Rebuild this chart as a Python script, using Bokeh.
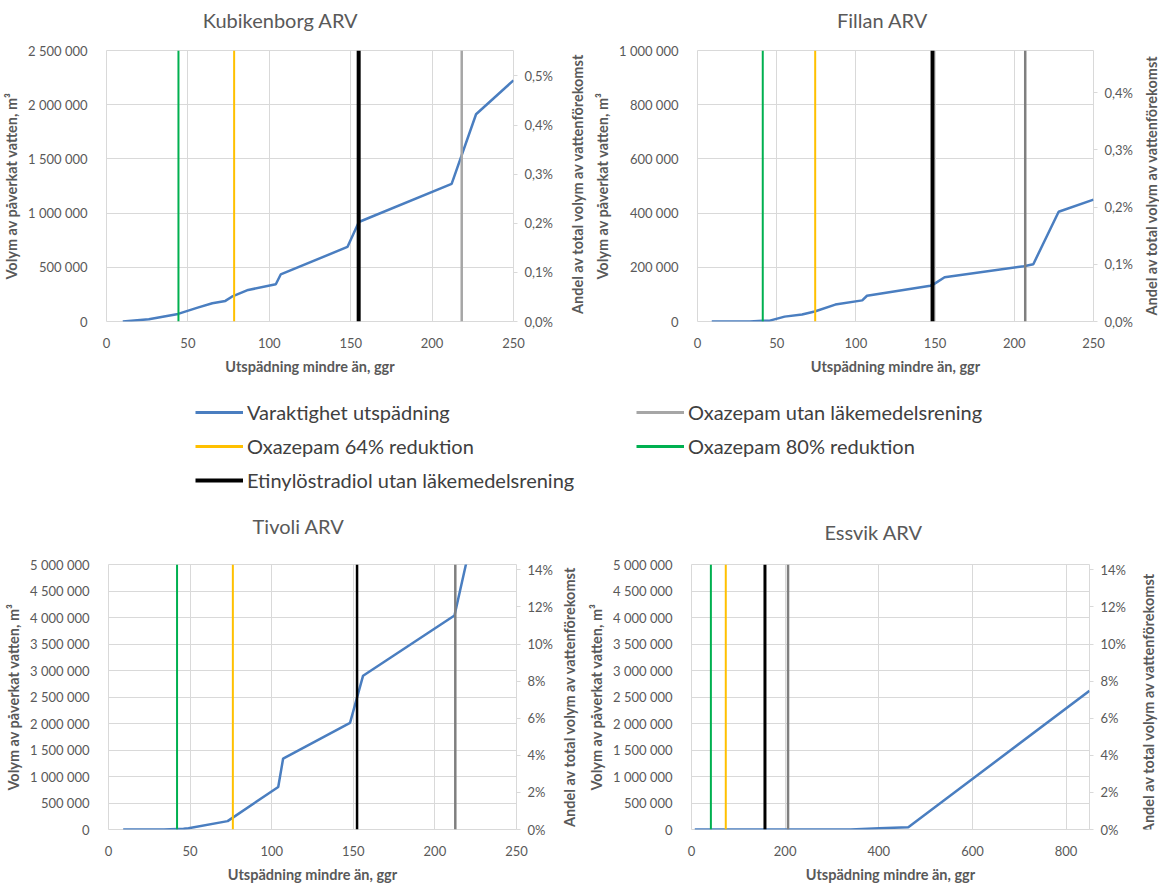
from math import pi
from bokeh.plotting import figure
from bokeh.models import (Range1d, LinearAxis, FixedTicker, CustomJSTickFormatter,
                          Span, Label, Legend, LegendItem)
from bokeh.layouts import column, row
from bokeh.embed import file_html
from bokeh.resources import INLINE

# ---------------- data ----------------
titles = ["Kubikenborg ARV", "Fillan ARV", "Tivoli ARV", "Essvik ARV"]

kub_x = [10, 26, 44, 56, 65, 73, 77, 87, 104, 107, 148, 155, 212, 227, 250]
kub_y = [0, 21000, 70000, 128000, 168000, 190000, 229000, 291000, 343000, 434000,
         688000, 918000, 1270000, 1912000, 2225000]

fil_x = [9, 33, 41, 45, 55, 66, 74, 87, 104, 107, 147, 149, 156, 206, 212, 228, 250]
fil_y = [0, 0, 2400, 2400, 18000, 26000, 37000, 62500, 78000, 95000, 132000, 137000,
         163500, 204000, 211500, 405000, 449500]

tiv_x = [9, 34, 46, 49, 73, 104, 107, 148, 156, 212, 219, 226]
tiv_y = [0, 0, 12000, 24000, 158000, 803000, 1338000, 2013000, 2902000, 4039000,
         5000000, 5950000]

ess_x = [7, 160, 340, 401, 463, 850]
ess_y = [0, 0, 0, 24000, 43000, 2616000]

curves_x = [kub_x, fil_x, tiv_x, ess_x]
curves_y = [kub_y, fil_y, tiv_y, ess_y]

# threshold dilutions (vertical lines)
oxazepam_80 = [44.2, 41.2, 42.0, 41.4]        # green
oxazepam_64 = [78.4, 74.3, 76.2, 73.2]        # yellow
etinyl_utan = [154.9, 148.4, 152.3, 156.9]    # black
oxazepam_utan = [218.2, 206.9, 212.5, 206.2]  # gray

# total water volume per water body (m3) for the secondary axis
total_volume = [453e6, 211e6, 35.0e6, 35.0e6]

x_max = [250, 250, 250, 850]
y_max = [2500000, 1000000, 5000000, 5000000]
x_ticks = [[0, 50, 100, 150, 200, 250]] * 3 + [[0, 200, 400, 600, 800]]
y_ticks = [
    [0, 500000, 1000000, 1500000, 2000000, 2500000],
    [0, 200000, 400000, 600000, 800000, 1000000],
    [0, 500000, 1000000, 1500000, 2000000, 2500000, 3000000, 3500000, 4000000, 4500000, 5000000],
    [0, 500000, 1000000, 1500000, 2000000, 2500000, 3000000, 3500000, 4000000, 4500000, 5000000],
]
pct_ticks = [
    [0, 0.1, 0.2, 0.3, 0.4, 0.5],
    [0, 0.1, 0.2, 0.3, 0.4],
    [0, 2, 4, 6, 8, 10, 12, 14],
    [0, 2, 4, 6, 8, 10, 12, 14],
]
pct_decimals = [1, 1, 0, 0]

legend_labels = ["Varaktighet utspädning", "Oxazepam utan läkemedelsrening",
                 "Oxazepam 64% reduktion", "Oxazepam 80% reduktion",
                 "Etinylöstradiol utan läkemedelsrening"]

x_title = "Utspädning mindre än, ggr"
y_title = "Volym av påverkat vatten, m³"
y2_title = "Andel av total volym av vattenförekomst"

# ---------------- style / layout ----------------
FONT = "Lato"
TXT = "#595959"
GRID = "#D9D9D9"
BLUE = "#4A7EC0"
GREEN = "#00B050"
YELLOW = "#FFC000"
BLACK = "#000000"
GRAYS = ["#A6A6A6", "#7F7F7F", "#7F7F7F", "#7F7F7F"]
BLACK_W = [4, 4, 2.5, 3]
AXT = "14.5px"
AXT2 = "14.5px"

# main figure: width, height, border left, right, top, bottom
geom = [
    (563, 350, 98, 50, 15, 64),
    (550, 350, 107, 47, 15, 58),
    (557, 343, 108, 41, 10, 59),
    (550, 343, 102, 46, 19, 51),
]
# strips holding the right-hand axis titles: (x0, x1, y0, y1) in page pixels
strips = [(563, 590, 35, 385), (1140, 1159, 35, 385),
          (557, 585, 545, 888), (1135, 1159, 545, 888)]
strip_text = [(577, 207), (1151, 209), (569, 716), (1148, 724)]
# chart titles (page pixels)
title_xy = [(280, 19), (882, 19), (298, 525), (873, 531)]

num_fmt_code = """
const s = Math.round(tick).toString();
return s.replace(/\\B(?=(\\d{3})+(?!\\d))/g, ' ');
"""


def blank(x0, x1, y0, y1):
    f = figure(width=x1 - x0, height=y1 - y0, output_backend="svg", toolbar_location=None,
               x_range=Range1d(x0, x1), y_range=Range1d(y1, y0), x_axis_type=None,
               y_axis_type=None, min_border=0, outline_line_color=None,
               background_fill_color="white", border_fill_color="white")
    f.xgrid.visible = False
    f.ygrid.visible = False
    return f


def build(i):
    w, h, bl, br, bt, bb = geom[i]
    p = figure(width=w, height=h, output_backend="svg", toolbar_location=None,
               x_range=Range1d(0, x_max[i]), y_range=Range1d(0, y_max[i]),
               min_border_left=bl, min_border_right=br, min_border_top=bt,
               min_border_bottom=bb, background_fill_color="white",
               border_fill_color="white", outline_line_color=GRID)

    p.line(curves_x[i], curves_y[i], line_color=BLUE, line_width=2.5)
    for v, c, lw in [(oxazepam_80[i], GREEN, 2), (oxazepam_64[i], YELLOW, 2),
                     (etinyl_utan[i], BLACK, BLACK_W[i]), (oxazepam_utan[i], GRAYS[i], 2.5)]:
        p.add_layout(Span(location=v, dimension="height", line_color=c, line_width=lw))

    p.xgrid.grid_line_color = GRID
    p.ygrid.grid_line_color = GRID
    p.xgrid.ticker = FixedTicker(ticks=x_ticks[i])
    p.ygrid.ticker = FixedTicker(ticks=y_ticks[i])

    xa = p.xaxis[0]
    xa.ticker = FixedTicker(ticks=x_ticks[i])
    xa.axis_label = x_title
    ya = p.yaxis[0]
    ya.ticker = FixedTicker(ticks=y_ticks[i])
    ya.formatter = CustomJSTickFormatter(code=num_fmt_code)
    ya.axis_label = y_title
    for ax in (xa, ya):
        ax.axis_line_color = None
        ax.major_tick_line_color = None
        ax.minor_tick_line_color = None
        ax.major_label_text_font = FONT
        ax.major_label_text_font_size = "13px"
        ax.major_label_text_color = TXT
        ax.axis_label_text_font = FONT
        ax.axis_label_text_font_size = AXT
        ax.axis_label_text_font_style = "bold"
        ax.axis_label_text_color = TXT
    xa.major_label_standoff = 10
    xa.axis_label_standoff = 7
    ya.major_label_standoff = 13
    ya.axis_label_standoff = 5

    p.extra_y_ranges = {"pct": Range1d(0, y_max[i] / total_volume[i] * 100)}
    d = pct_decimals[i]
    ra = LinearAxis(y_range_name="pct", ticker=FixedTicker(ticks=pct_ticks[i]),
                    formatter=CustomJSTickFormatter(
                        code=f"return tick.toFixed({d}).replace('.', ',') + '%';"))
    ra.axis_line_color = None
    ra.minor_tick_line_color = None
    ra.major_tick_line_color = GRID
    ra.major_tick_out = 4
    ra.major_tick_in = 0
    ra.major_label_standoff = 7
    ra.major_label_text_font = FONT
    ra.major_label_text_font_size = "13px"
    ra.major_label_text_color = TXT
    p.add_layout(ra, "right")

    x0, x1, y0, y1 = strips[i]
    s = blank(x0, x1, y0, y1)
    sx, sy = strip_text[i]
    s.add_layout(Label(x=sx, y=sy, text=y2_title, angle=pi / 2, text_align="center",
                       text_baseline="middle", text_font=FONT, text_font_size=AXT2,
                       text_font_style="bold", text_color=TXT))
    return p, s


def title_label(i):
    tx, ty = title_xy[i]
    return Label(x=tx, y=ty, text=titles[i], text_align="center", text_baseline="middle",
                 text_font=FONT, text_font_size="20px", text_color=TXT)


charts = [build(i) for i in range(4)]

# title strip above the top row
top = blank(0, 1159, 0, 35)
top.add_layout(title_label(0))
top.add_layout(title_label(1))

# middle strip: legend + titles of the lower row
mid = blank(0, 1159, 385, 545)
mid.add_layout(title_label(2))
mid.add_layout(title_label(3))
nan = float("nan")
r_blue = mid.line([nan], [nan], line_color=BLUE, line_width=3)
r_gray = mid.line([nan], [nan], line_color=GRAYS[0], line_width=3)
r_yel = mid.line([nan], [nan], line_color=YELLOW, line_width=3)
r_grn = mid.line([nan], [nan], line_color=GREEN, line_width=3)
r_blk = mid.line([nan], [nan], line_color=BLACK, line_width=4)


def make_legend(items, loc):
    return Legend(items=items, location=loc, orientation="vertical",
                  glyph_width=48, glyph_height=24, label_height=24, spacing=10,
                  label_standoff=4, padding=0, margin=0, border_line_color=None,
                  background_fill_alpha=0, label_text_font=FONT,
                  label_text_font_size="20px", label_text_color="#404040")


leg1 = make_legend([LegendItem(label=legend_labels[0], renderers=[r_blue]),
                    LegendItem(label=legend_labels[2], renderers=[r_yel]),
                    LegendItem(label=legend_labels[4], renderers=[r_blk])], (195, 53))
leg2 = make_legend([LegendItem(label=legend_labels[1], renderers=[r_gray]),
                    LegendItem(label=legend_labels[3], renderers=[r_grn])], (636, 87))
mid.add_layout(leg1)
mid.add_layout(leg2)

layout = column(
    top,
    row(charts[0][0], charts[0][1], charts[1][0], charts[1][1]),
    mid,
    row(charts[2][0], charts[2][1], charts[3][0], charts[3][1]),
)

open("out.html", "w").write(file_html(layout, INLINE))
